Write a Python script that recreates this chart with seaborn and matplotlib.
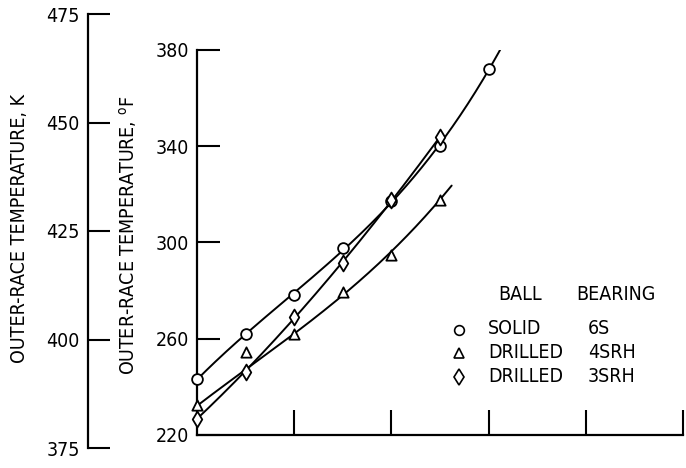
import numpy as np
import pandas as pd
import matplotlib
matplotlib.use("Agg")
import matplotlib.pyplot as plt
import seaborn as sns
from matplotlib import font_manager

# ---------------- data ----------------
x_pts = [0.0, 0.5, 1.0, 1.5, 2.0, 2.5, 3.0]
solid_6s = [243.1, 262.0, 278.2, 297.6, 317.1, 340.0, 372.0]          # circles
drilled_4srh = [232.4, 254.6, 262.0, 279.6, 294.9, 317.8]             # triangles
drilled_3srh = [226.8, 246.3, 269.2, 291.4, 317.5, 343.9]             # diamonds

# faired-curve knots for the 4SRH curve (curve passes below the 0.5 point)
curve_4srh_x = [0.0, 0.5, 1.0, 1.5, 2.0, 2.5, 2.62]
curve_4srh_y = [232.4, 246.5, 262.0, 279.6, 295.0, 317.8, 324.0]

f_ticks = [220, 260, 300, 340, 380]
k_ticks = [375, 400, 425, 450, 475]
x_ticks = [1, 2, 3, 4, 5]

legend_rows = [("o", "SOLID", "6S"), ("^", "DRILLED", "4SRH"), ("d", "DRILLED", "3SRH")]

# ---------------- style ----------------
sns.set_style("ticks")
names = {f.name for f in font_manager.fontManager.ttflist}
if "Liberation Sans Narrow" in names:
    fam = "Liberation Sans Narrow"
    plt.rcParams["font.family"] = [fam, "DejaVu Sans"]
else:
    fam = "DejaVu Sans"
    plt.rcParams["font.family"] = ["DejaVu Sans"]
    plt.rcParams["font.stretch"] = "condensed"
plt.rcParams["mathtext.fontset"] = "custom"
plt.rcParams["mathtext.rm"] = fam
plt.rcParams["mathtext.it"] = fam
for key in ("text.color", "axes.labelcolor", "xtick.color", "ytick.color", "axes.edgecolor"):
    plt.rcParams[key] = "black"
FS = 14

W, H = 686, 468
fig = plt.figure(figsize=(W / 100, H / 100), dpi=100)

def fx(px):
    return px / W

def fy(py):
    return 1 - py / H

# main (deg F) axes
ax = fig.add_axes([fx(197), fy(435), (683 - 197) / W, (435 - 50) / H])
ax.set_xlim(0, 5)
ax.set_ylim(220, 380)

# faired curves
def fit_curve(xs, ys, x_end, deg=3):
    c = np.polyfit(xs, ys, deg)
    xx = np.linspace(xs[0], x_end, 200)
    return pd.DataFrame({"x": xx, "y": np.polyval(c, xx)})

curves = [
    fit_curve(x_pts, solid_6s, 3.15),
    fit_curve(curve_4srh_x, curve_4srh_y, 2.62),
    fit_curve(x_pts[:len(drilled_3srh)], drilled_3srh, 2.5),
]
for cdf in curves:
    sns.lineplot(data=cdf, x="x", y="y", ax=ax, color="black", lw=1.4,
                 estimator=None, sort=False, zorder=2)

series = [("o", solid_6s, 60), ("^", drilled_4srh, 55), ("d", drilled_3srh, 65)]
for mk, vals, s in series:
    df = pd.DataFrame({"x": x_pts[:len(vals)], "y": vals})
    sns.scatterplot(data=df, x="x", y="y", ax=ax, marker=mk, s=s,
                    facecolor="white", edgecolor="black", linewidth=1.3,
                    zorder=3, clip_on=False)

ax.set_xticks(x_ticks)
ax.set_xticklabels([])
ax.set_yticks(f_ticks)
ax.set_yticklabels([str(t) for t in f_ticks], fontsize=FS)
ax.tick_params(axis="x", direction="in", length=18, width=1.5)
ax.tick_params(axis="y", direction="in", length=16.5, width=1.5, pad=6)
for side in ("top", "right"):
    ax.spines[side].set_visible(False)
for side in ("left", "bottom"):
    ax.spines[side].set_linewidth(1.6)
ax.set_xlabel("")
ax.set_ylabel("OUTER-RACE TEMPERATURE, $^{\\mathrm{o}}$F", fontsize=FS)
ax.yaxis.set_label_coords(fx(128), fy(235), transform=fig.transFigure)
ax.yaxis.label.set_va("center")

# Kelvin axis
kax = fig.add_axes([fx(88), fy(448), 0.02, (448 - 14) / H])
kax.set_ylim(375, 475)
kax.set_yticks(k_ticks)
kax.set_yticklabels([str(t) for t in k_ticks], fontsize=FS)
kax.set_xticks([])
kax.patch.set_visible(False)
for side in ("top", "right", "bottom"):
    kax.spines[side].set_visible(False)
kax.spines["left"].set_linewidth(1.6)
kax.tick_params(axis="y", direction="in", length=16, width=1.5, pad=6)
kax.set_ylabel("OUTER-RACE TEMPERATURE, K", fontsize=FS)
kax.yaxis.set_label_coords(fx(20), fy(228), transform=fig.transFigure)
kax.yaxis.label.set_va("center")

# legend (hand-lettered key)
fig.text(fx(498), fy(295), "BALL", fontsize=FS, va="center", ha="left")
fig.text(fx(576), fy(295), "BEARING", fontsize=FS, va="center", ha="left")
row_y = [329, 352, 376]
for (mk, ball, brg), ry in zip(legend_rows, row_y):
    ax.plot([fx(459)], [fy(ry + 1)], marker=mk, ms=7 if mk != "d" else 8,
            mfc="white", mec="black", mew=1.2, transform=fig.transFigure,
            clip_on=False, ls="none")
    fig.text(fx(488), fy(ry), ball, fontsize=FS, va="center", ha="left")
    fig.text(fx(588), fy(ry), brg, fontsize=FS, va="center", ha="left")

fig.savefig("out.png", dpi=100)
